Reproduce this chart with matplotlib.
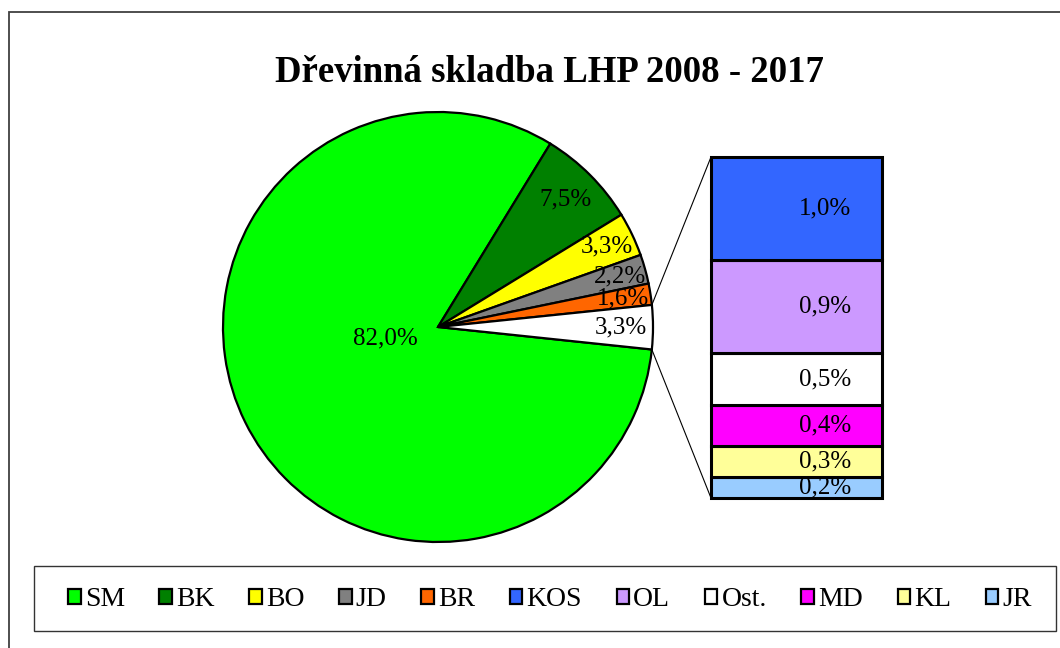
import numpy as np
import matplotlib
matplotlib.use("Agg")
import matplotlib.pyplot as plt
from matplotlib.patches import Patch, Rectangle, ConnectionPatch

plt.rcParams['font.family'] = ['Liberation Serif', 'DejaVu Serif']

# ---- data ----
pie_labels = ["SM", "BK", "BO", "JD", "BR"]
pie_values = [82.0, 7.5, 3.3, 2.2, 1.6]
pie_colors = ["#00FF00", "#008000", "#FFFF00", "#808080", "#FF6600"]

bar_labels = ["KOS", "OL", "Ost.", "MD", "KL", "JR"]
bar_values = [1.0, 0.9, 0.5, 0.4, 0.3, 0.2]
bar_colors = ["#3366FF", "#CC99FF", "#FFFFFF", "#FF00FF", "#FFFF99", "#99CCFF"]

title = "Dřevinná skladba LHP 2008 - 2017"

def fmt(v):
    return f"{v:.1f}%".replace(".", ",")

W, H = 1060, 648
fig = plt.figure(figsize=(W / 100, H / 100), dpi=100)

# outer chart frame
fig.patches.append(Rectangle((8.5 / W, -0.1), 1.2, (H - 12.5) / H + 0.1,
                             transform=fig.transFigure, fill=False,
                             edgecolor="#404040", linewidth=1.3))

fig.text(549 / W, 1 - 72 / H, title, ha="center", va="center",
         fontsize=26.5, fontweight="bold")

# ---- pie ----
axp = fig.add_axes([223 / W, (H - 542) / H, 430 / W, 430 / H])
other_total = sum(bar_values)
vals = pie_values + [other_total]
cols = pie_colors + ["#FFFFFF"]
wedges, _ = axp.pie(vals, colors=cols, startangle=-6, counterclock=False,
                    radius=1.0,
                    wedgeprops=dict(edgecolor="black", linewidth=1.6))
for w in wedges:
    w.set_clip_on(False)
axp.set_xlim(-1, 1)
axp.set_ylim(-1, 1)
axp.axis("off")

label_r = [0.25, 0.84, 0.87, 0.88, 0.87, 0.85]
for i, (w, v) in enumerate(zip(wedges, vals)):
    mid = (w.theta1 + w.theta2) / 2
    if i == 0:
        mid = -168
    r = label_r[i]
    axp.text(r * np.cos(np.radians(mid)), r * np.sin(np.radians(mid)), fmt(v),
             ha="center", va="center", fontsize=18)

# ---- stacked bar ----
axb = fig.add_axes([711 / W, (H - 498) / H, 171 / W, 341 / H])
bottom = 0.0
for lab, v, c in zip(bar_labels[::-1], bar_values[::-1], bar_colors[::-1]):
    bars = axb.bar(0, v, width=1.0, bottom=bottom, color=c, edgecolor="black",
                   linewidth=2.2)
    for b in bars:
        b.set_clip_on(False)
    axb.text(0.167, bottom + v / 2, fmt(v), ha="center", va="center",
             fontsize=18)
    bottom += v
axb.set_xlim(-0.5, 0.5)
axb.set_ylim(0, other_total)
axb.axis("off")

# connector lines
wo = wedges[-1]
for ang, yb in [(wo.theta2, other_total), (wo.theta1, 0)]:
    xa, ya = np.cos(np.radians(ang)), np.sin(np.radians(ang))
    con = ConnectionPatch(xyA=(xa, ya), coordsA=axp.transData,
                          xyB=(-0.5, yb), coordsB=axb.transData,
                          color="black", linewidth=0.8)
    fig.add_artist(con)

# ---- legend ----
fig.patches.append(Rectangle((34 / W, (H - 631) / H), 1022 / W, 65 / H,
                             transform=fig.transFigure, fill=False,
                             edgecolor="#333333", linewidth=1.0))
all_labels = pie_labels + bar_labels
all_colors = pie_colors + bar_colors
handles = [Patch(facecolor=c, edgecolor="black", linewidth=1.6, label=l)
           for l, c in zip(all_labels, all_colors)]
leg = fig.legend(handles=handles, loc="center",
                 bbox_to_anchor=(68 / W, (H - 600) / H, (1032 - 68) / W, 0),
                 mode="expand", ncol=len(handles), fontsize=20,
                 handlelength=0.45, handleheight=0.45, handletextpad=0.15,
                 borderpad=0, borderaxespad=0, frameon=False)

fig.savefig("out.png", dpi=100)
